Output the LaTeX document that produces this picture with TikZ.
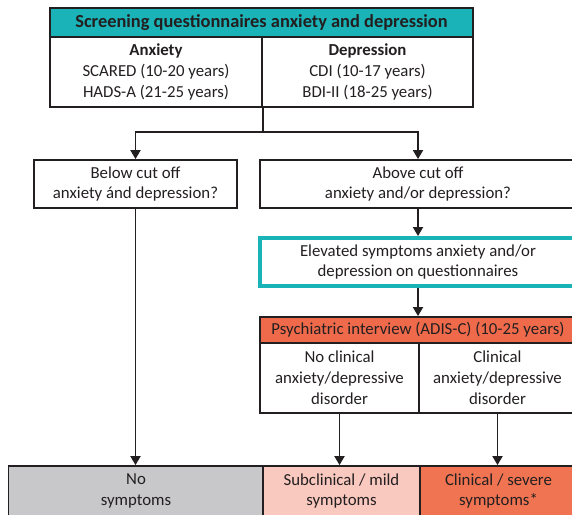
\documentclass[tikz,border=0pt]{standalone}
\usepackage{fontspec}
\setmainfont{Carlito}
\usetikzlibrary{arrows.meta,calc}
\definecolor{teal1}{HTML}{1AB4B8}
\definecolor{orng}{HTML}{EF6A4B}
\definecolor{orng2}{HTML}{F07452}
\definecolor{pinkc}{HTML}{F9C8BE}
\definecolor{grayc}{HTML}{C8C8CA}
\definecolor{ink}{HTML}{231F20}
\tikzset{
  cell/.style={draw=ink, line width=1.8pt, inner sep=0pt, align=center,
    font=\fontsize{16.8}{20.8}\selectfont, text=ink},
  arr/.style={draw=ink, line width=1.8pt, -{Triangle[width=10pt,length=9pt]}},
  ln/.style={draw=ink, line width=1.8pt},
}
\begin{document}
\begin{tikzpicture}[x=1pt,y=-1pt]
\useasboundingbox (0,0) rectangle (572,514);
\clip (0,0) rectangle (572,514);
% top block
\node[cell, fill=teal1, minimum width=423pt, minimum height=29pt, font=\fontsize{18.4}{22}\selectfont\bfseries] (title) at (261.5,22.5) {Screening questionnaires anxiety and depression};
\node[cell, minimum width=212pt, minimum height=70pt] (anx) at (156,72) {\textbf{Anxiety}\\SCARED (10-20 years)\\HADS-A (21-25 years)};
\node[cell, minimum width=211pt, minimum height=70pt] (dep) at (367.5,72) {\textbf{Depression}\\CDI (10-17 years)\\BDI-II (18-25 years)};
% decision boxes
\node[cell, minimum width=203pt, minimum height=48pt] (below) at (135.5,184) {Below cut off\\anxiety ánd depression?};
\node[cell, minimum width=316pt, minimum height=48pt] (above) at (418,184) {Above cut off\\anxiety and/or depression?};
\node[cell, draw=teal1, line width=3.8pt, minimum width=316pt, minimum height=48pt] (elev) at (418,262) {Elevated symptoms anxiety and/or\\depression on questionnaires};
% interview
\node[cell, fill=orng, minimum width=316pt, minimum height=26pt] (interv) at (418,330) {Psychiatric interview (ADIS-C) (10-25 years)};
\node[cell, minimum width=159pt, minimum height=70pt] (noclin) at (339.5,378) {No clinical\\anxiety/depressive\\disorder};
\node[cell, minimum width=157pt, minimum height=70pt] (clin) at (497.5,378) {Clinical\\anxiety/depressive\\disorder};
% outcomes
\node[cell, fill=grayc, minimum width=255pt, minimum height=50pt] (nosym) at (136,491) {No\\symptoms};
\node[cell, fill=pinkc, minimum width=157pt, minimum height=50pt] (mild) at (341.5,491) {Subclinical / mild\\symptoms};
\node[cell, fill=orng2, minimum width=157pt, minimum height=50pt] (severe) at (498.5,491) {Clinical / severe\\symptoms*};
% connectors
\coordinate (split) at ($(anx.south east)+(0,24)$);
\draw[ln] (anx.south east) -- (split);
\draw[arr] (split) -| (below.north);
\draw[arr] (split) -| (above.north);
\draw[arr] (above.south) -- (elev.north);
\draw[arr] (elev.south) -- (interv.north);
\draw[arr] (below.south) -- (below.south |- nosym.north);
\draw[arr] (noclin.south) -- (noclin.south |- mild.north);
\draw[arr] (clin.south) -- (clin.south |- severe.north);
\end{tikzpicture}
\end{document}
